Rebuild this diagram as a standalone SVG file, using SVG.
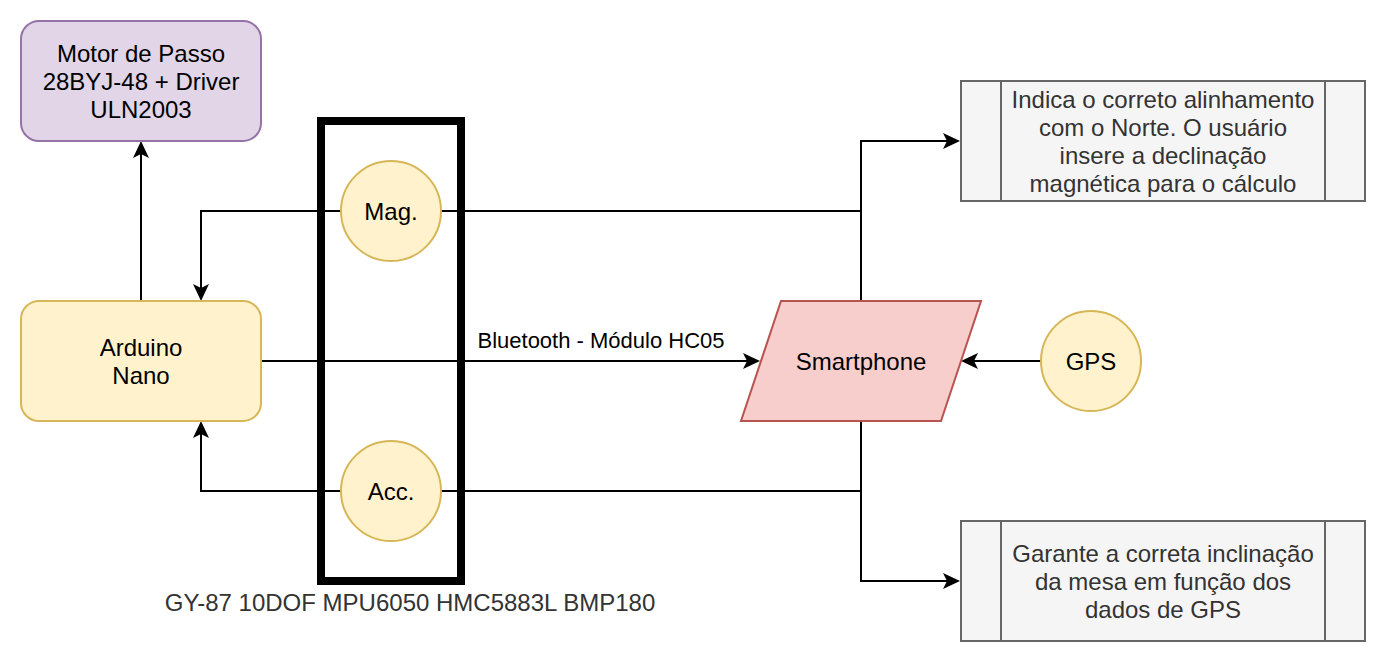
<svg xmlns="http://www.w3.org/2000/svg" width="1386" height="662" viewBox="0 0 1386 662">
  <style>
    text { font-family: "Liberation Sans", Arial, Helvetica, sans-serif; font-size: 24px; text-anchor: middle; fill: #000000; }
    .grey text, text.grey { fill: #333333; }
    .edge { fill: none; stroke: #000000; stroke-width: 2; }
    .yellow { fill: #fff2cc; stroke: #d6b656; stroke-width: 2; }
    .purple { fill: #e1d5e7; stroke: #9673a6; stroke-width: 2; }
    .red { fill: #f8cecc; stroke: #b85450; stroke-width: 2; }
    .proc { fill: #f5f5f5; stroke: #666666; stroke-width: 2; }
    .lbl { font-size: 22px; }
  </style>
  <defs>
    <marker id="arrow" markerUnits="userSpaceOnUse" markerWidth="20" markerHeight="20" viewBox="0 0 20 20" refX="4" refY="10" orient="auto">
      <path d="M0,2 L17,10 L0,18 L4,10 Z" fill="#000000"/>
    </marker>
  </defs>
  <rect width="1386" height="662" fill="#ffffff"/>

  <g id="connectors">
    <path class="edge" d="M141,301 L141,154" marker-end="url(#arrow)"/>
    <path class="edge" d="M341,211 L201,211 L201,288" marker-end="url(#arrow)"/>
    <path class="edge" d="M341,491 L201,491 L201,434" marker-end="url(#arrow)"/>
    <path class="edge" d="M261,361 L747,361" marker-end="url(#arrow)"/>
    <text class="lbl" x="601" y="348">Bluetooth - Módulo HC05</text>
    <path class="edge" d="M1041,361 L974,361" marker-end="url(#arrow)"/>
    <path class="edge" d="M441,211 L861,211"/>
    <path class="edge" d="M861,301 L861,141 L947,141" marker-end="url(#arrow)"/>
    <path class="edge" d="M441,491 L861,491"/>
    <path class="edge" d="M861,421 L861,581 L947,581" marker-end="url(#arrow)"/>
  </g>

  <g id="motor">
    <rect class="purple" x="21" y="21" width="240" height="120" rx="18" ry="18"/>
    <text x="141" y="62">Motor de Passo</text>
    <text x="141" y="90">28BYJ-48 + Driver</text>
    <text x="141" y="118">ULN2003</text>
  </g>

  <g id="arduino">
    <rect class="yellow" x="21" y="301" width="240" height="120" rx="18" ry="18"/>
    <text x="141" y="356">Arduino</text>
    <text x="141" y="384">Nano</text>
  </g>

  <g id="gy87">
    <rect x="321" y="121" width="140" height="460" fill="none" stroke="#000000" stroke-width="8"/>
    <text class="grey" x="410" y="611">GY-87 10DOF MPU6050 HMC5883L BMP180</text>
  </g>

  <g id="mag">
    <circle class="yellow" cx="391" cy="211" r="50"/>
    <text x="391" y="220">Mag.</text>
  </g>

  <g id="acc">
    <circle class="yellow" cx="391" cy="491" r="50"/>
    <text x="391" y="500">Acc.</text>
  </g>

  <g id="smartphone">
    <polygon class="red" points="781,301 981,301 941,421 741,421"/>
    <text x="861" y="370">Smartphone</text>
  </g>

  <g id="gps">
    <circle class="yellow" cx="1091" cy="361" r="50"/>
    <text x="1091" y="370">GPS</text>
  </g>

  <g id="north" class="grey">
    <rect class="proc" x="961" y="81" width="404" height="120"/>
    <line class="proc" x1="1001" y1="81" x2="1001" y2="201"/>
    <line class="proc" x1="1325" y1="81" x2="1325" y2="201"/>
    <text x="1163" y="108">Indica o correto alinhamento</text>
    <text x="1163" y="136">com o Norte. O usuário</text>
    <text x="1163" y="164">insere a declinação</text>
    <text x="1163" y="192">magnética para o cálculo</text>
  </g>

  <g id="tilt" class="grey">
    <rect class="proc" x="961" y="521" width="404" height="120"/>
    <line class="proc" x1="1001" y1="521" x2="1001" y2="641"/>
    <line class="proc" x1="1325" y1="521" x2="1325" y2="641"/>
    <text x="1163" y="562">Garante a correta inclinação</text>
    <text x="1163" y="590">da mesa em função dos</text>
    <text x="1163" y="618">dados de GPS</text>
  </g>
</svg>
